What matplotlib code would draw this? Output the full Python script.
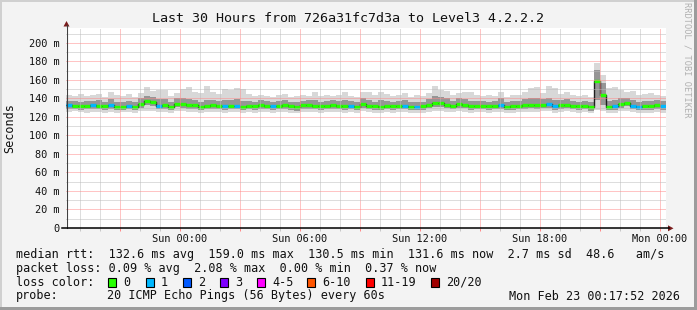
import numpy as np
import matplotlib
matplotlib.use("Agg")
import matplotlib.pyplot as plt
from matplotlib.patches import Rectangle, Polygon
from matplotlib.lines import Line2D

# ---------------- data ----------------
title = "Last 30 Hours from 726a31fc7d3a to Level3 4.2.2.2"
step_hours = 0.3            # one consolidated sample every 18 minutes
first_midnight = 5.7022     # hours from graph start to "Sun 00:00"

median_ms = [132.5, 132, 131.5, 132, 132.5, 132, 131.5, 132.5, 131, 131,
             132, 131, 134, 137.5, 136, 132, 133, 131, 134.5, 134,
             132.5, 133, 131, 132, 132.5, 132, 131.5, 132, 132, 131,
             132, 131.5, 133, 132, 131.5, 132, 132.5, 131.5, 130.5, 132.5,
             133, 132, 131.5, 132, 133, 132, 131.5, 132, 131, 134,
             132, 131.5, 131, 132, 131.5, 132, 132, 131, 131, 131.5,
             133, 135, 135.5, 133, 132, 134, 133.5, 131.5, 132, 132,
             131.5, 132, 133, 131, 131.5, 132, 132.5, 133, 132.5, 133.5,
             134, 131.5, 133, 133.5, 132, 131.5, 132, 130.5, 159, 144,
             131, 131.5, 134, 135.5, 132, 131, 131.5, 131.5, 133, 131.6]

loss_pings = [1, 0, 0, 0, 1, 0, 0, 1, 0, 0,
              1, 0, 0, 0, 0, 1, 0, 0, 0, 0,
              0, 0, 0, 0, 0, 0, 1, 0, 1, 0,
              0, 0, 0, 0, 1, 0, 0, 0, 0, 0,
              0, 0, 0, 0, 0, 0, 0, 1, 0, 0,
              0, 0, 0, 0, 0, 0, 1, 0, 1, 0,
              0, 0, 0, 0, 0, 0, 0, 0, 0, 0,
              0, 0, 1, 0, 0, 0, 0, 0, 0, 0,
              1, 1, 0, 0, 0, 0, 0, 0, 0, 0,
              0, 1, 0, 0, 1, 1, 0, 0, 0, 1]

smoke_min = [125, 126, 125, 124, 125, 125, 124, 125, 124, 125,
             125, 124, 126, 127, 126, 125, 125, 124, 126, 126,
             125, 125, 124, 125, 125, 125, 124, 125, 125, 124,
             125, 124, 125, 125, 124, 125, 125, 124, 124, 125,
             125, 125, 124, 125, 125, 125, 124, 125, 124, 126,
             125, 124, 124, 125, 124, 125, 125, 124, 124, 124,
             125, 126, 127, 125, 125, 126, 125, 124, 125, 125,
             124, 125, 125, 124, 124, 125, 125, 125, 125, 126,
             126, 124, 125, 126, 125, 124, 125, 124, 128, 127,
             124, 124, 126, 126, 125, 124, 124, 124, 125, 124]

smoke_q1 = [128.5, 128.5, 128, 128.5, 128.5, 128.5, 128, 128.5, 127.5, 127.5,
            128.5, 127.5, 129.5, 132.5, 131.5, 128.5, 129, 127.5, 130.5, 130,
            128.5, 129, 127.5, 128.5, 128.5, 128.5, 127.5, 128.5, 128.5, 127.5,
            128.5, 128, 129, 128.5, 127.5, 128.5, 128.5, 128, 127, 128.5,
            129, 128.5, 128, 128.5, 129, 128.5, 127.5, 128.5, 127.5, 130,
            128.5, 128, 127.5, 128.5, 128, 128.5, 128.5, 127.5, 127.5, 128,
            129.5, 130.5, 131, 129.5, 128.5, 130, 129.5, 128, 128.5, 128.5,
            128, 128.5, 129, 127.5, 128, 128.5, 128.5, 129.5, 129, 129.5,
            130, 128, 129, 129.5, 128.5, 128, 128.5, 127, 138, 133,
            127.5, 128, 130, 131.5, 128.5, 127.5, 128, 128, 129, 128]

smoke_q3 = [137, 137, 136.5, 137, 137.5, 138, 136, 139, 136, 136,
            137.5, 136, 140, 143, 142, 139, 139, 136, 140, 140,
            139, 138, 136, 138, 138, 137, 138, 138, 139, 137,
            137, 136.5, 138, 137, 136.5, 137, 138, 136.5, 136, 137.5,
            138, 138.5, 136.5, 137, 138, 137, 138.5, 137, 136, 140,
            138, 136.5, 138, 137, 136.5, 137, 138, 136, 136, 136.5,
            139, 143, 142, 140, 137, 140, 139, 137, 137, 137,
            136.5, 137, 140, 136, 137, 137, 139, 140, 140, 139,
            141, 138, 138, 139, 137, 136.5, 137, 136, 171, 157,
            137, 138, 140, 141, 138, 136, 137, 137, 138, 137]

smoke_max = [144, 143, 145, 143, 144, 145, 142, 147, 144, 143,
             145, 142, 146, 152, 148, 149, 149, 143, 146, 150,
             152, 147, 146, 154, 147, 145, 150, 149, 151, 150,
             145, 143, 144, 143, 142, 144, 145, 142, 143, 144,
             143, 147, 143, 144, 143, 144, 147, 143, 142, 147,
             147, 144, 147, 145, 143, 144, 146, 142, 144, 143,
             146, 153, 149, 148, 144, 146, 147, 147, 144, 143,
             144, 143, 147, 142, 144, 144, 147, 151, 152, 146,
             153, 151, 145, 147, 144, 143, 144, 142, 178, 165,
             151, 152, 149, 147, 148, 144, 145, 146, 144, 143]

xtick_labels = ["Sun 00:00", "Sun 06:00", "Sun 12:00", "Sun 18:00", "Mon 00:00"]
ytick_values = [0, 20, 40, 60, 80, 100, 120, 140, 160, 180, 200]
ytick_labels = ["0", "20 m", "40 m", "60 m", "80 m", "100 m", "120 m",
                "140 m", "160 m", "180 m", "200 m"]

loss_labels = ["0", "1", "2", "3", "4-5", "6-10", "11-19", "20/20"]
loss_colors = ["#26ff00", "#00b8ff", "#0059ff", "#7e00ff", "#ff00ff",
               "#ff5500", "#ff0000", "#a00000"]

legend_lines = [
    "median rtt:  132.6 ms avg  159.0 ms max  130.5 ms min  131.6 ms now  2.7 ms sd  48.6   am/s",
    "packet loss: 0.09 % avg  2.08 % max  0.00 % min  0.37 % now",
]
probe_text = "20 ICMP Echo Pings (56 Bytes) every 60s"
stamp_text = "Mon Feb 23 00:17:52 2026"

# ---------------- figure ----------------
plt.rcParams["font.family"] = ["DejaVu Sans Mono"]
W, H = 697, 310
fig = plt.figure(figsize=(W / 100, H / 100), dpi=100, facecolor="#f3f3f3")


def fx(x):
    return x / W


def fy(y):
    return 1 - y / H


ax = fig.add_axes([fx(66), fy(228), 600 / W, 200 / H])
ax.set_facecolor("white")
for s in ax.spines.values():
    s.set_visible(False)

n = len(median_ms)
edges = np.arange(n + 1) * step_hours


def ext(a):
    a = np.asarray(a, dtype=float)
    return np.append(a, a[-1])


ax.fill_between(edges, ext(smoke_min), ext(smoke_max), step="post",
                color="#d8d8d8", lw=0, zorder=1)
ax.fill_between(edges, ext(smoke_q1), ext(smoke_q3), step="post",
                color="#969696", lw=0, zorder=1.05)
ax.step(edges, ext(median_ms), where="post", color="#1e1e1e", lw=1.0, zorder=1.5)
ax.hlines(median_ms, edges[:-1], edges[1:],
          colors=[loss_colors[l] for l in loss_pings], lw=2.4, zorder=1.6)

ax.set_xlim(0, n * step_hours)
ax.set_ylim(0, 216.2)

# x ticks: minor every hour, major every 3 hours, labels every 6 hours
hour_marks = [first_midnight - 5 + i for i in range(30)]
major_marks = [first_midnight - 3 + 3 * i for i in range(10)]
major_labels = []
for i in range(10):
    major_labels.append(xtick_labels[(i - 1) // 2] if i % 2 == 1 else "")
ax.set_xticks(major_marks, labels=major_labels)
ax.set_xticks(hour_marks, minor=True)
ax.set_yticks(ytick_values, labels=ytick_labels)
ax.set_yticks([10 + 20 * i for i in range(11)], minor=True)

ax.tick_params(axis="x", which="major", color="#ff8a8a", length=1.8, width=0.72,
               pad=2.6, labelsize=7.4, labelcolor="#111111")
ax.tick_params(axis="x", which="minor", color="#c8c8c8", length=1.8, width=0.72)
ax.tick_params(axis="y", which="both", length=0, pad=4.6, labelsize=7.4,
               labelcolor="#111111")

ax.grid(which="major", color="#ff8a8a", linestyle=(0, (1, 1)), lw=0.72,
        zorder=3, snap=True)
ax.grid(which="minor", color="#bcbcbc", linestyle=(0, (1, 1)), lw=0.72,
        zorder=3, snap=True)
ax.set_axisbelow(False)

# axis lines with arrows (rrdtool style)
fig.add_artist(Line2D([fx(66.5), fx(66.5)], [fy(228), fy(25)], color="#404040",
                      lw=0.8))
fig.add_artist(Polygon([[fx(63.5), fy(26.5)], [fx(69.5), fy(26.5)], [fx(66.5), fy(21)]],
                       closed=True, color="#7a1c1c", lw=0))
fig.add_artist(Line2D([fx(62), fx(669)], [fy(228.3), fy(228.3)], color="black",
                      lw=1.1))
fig.add_artist(Polygon([[fx(668), fy(225.3)], [fx(668), fy(231.3)], [fx(673.5), fy(228.3)]],
                       closed=True, color="#7a1c1c", lw=0))

# frame shading
fig.add_artist(Rectangle((0, fy(2)), 1, 2 / H, color="#d0d0d0", lw=0))
fig.add_artist(Rectangle((0, 0), 2 / W, 1, color="#d0d0d0", lw=0))
fig.add_artist(Rectangle((fx(694), 0), 3 / W, 1, color="#9c9c9c", lw=0))
fig.add_artist(Rectangle((0, 0), 1, 3 / H, color="#9c9c9c", lw=0))

# texts
fig.text(fx(348.5), fy(19), title, ha="center", va="center", fontsize=9.6,
         color="#111111")
fig.text(fx(10), fy(128), "Seconds", rotation=90, ha="center", va="center",
         fontsize=8.5, color="#111111")
fig.text(fx(687), fy(60), "RRDTOOL / TOBI OETIKER", rotation=270, ha="center",
         va="center", fontsize=6.2, color="#b0b0b0")

fs = 8.5
fig.text(fx(16), fy(254.3), legend_lines[0], ha="left", va="center", fontsize=fs,
         color="#111111")
fig.text(fx(16), fy(268.3), legend_lines[1], ha="left", va="center", fontsize=fs,
         color="#111111")
fig.text(fx(16), fy(282.3), "loss color:", ha="left", va="center", fontsize=fs,
         color="#111111")
box_x = [108, 146, 183, 220, 257, 307, 366, 431]
for bx, lab, col in zip(box_x, loss_labels, loss_colors):
    fig.add_artist(Rectangle((fx(bx), fy(287)), 8 / W, 9 / H, facecolor=col,
                             edgecolor="black", lw=0.8))
    fig.text(fx(bx + 15), fy(282.3), lab, ha="left", va="center", fontsize=fs,
             color="#111111")
fig.text(fx(16), fy(296), "probe:", ha="left", va="center", fontsize=fs,
         color="#111111")
fig.text(fx(107), fy(296), probe_text, ha="left", va="center", fontsize=fs,
         color="#111111")
fig.text(fx(680), fy(296), stamp_text, ha="right", va="center", fontsize=fs,
         color="#111111")

fig.savefig("out.png", dpi=100, facecolor=fig.get_facecolor())
